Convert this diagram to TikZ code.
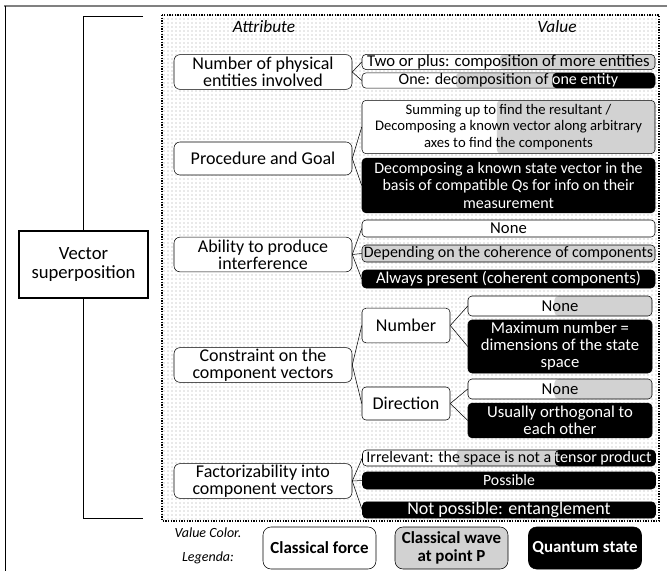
\documentclass[tikz,border=0pt]{standalone}
\usepackage{fontspec}
\setmainfont{Carlito}
\usetikzlibrary{patterns,calc}

\tikzset{
  attr/.style={draw, rounded corners=4.5pt, fill=white, align=center, inner sep=1pt,
    minimum width=133.5pt, minimum height=26pt, font=\fontsize{13.5}{12.5}\selectfont},
  val/.style={draw, rounded corners=3pt, fill=white, align=center, inner xsep=1pt,
    inner ysep=0.3pt, minimum width=219.75pt, font=\fontsize{12.5}{12.75}\selectfont},
  subval/.style={val, minimum width=138pt},
  qval/.style={fill=black, text=white},
  cval/.style={fill=gray!35},
  halfgray/.style={path picture={
    \fill[gray!35] ($(path picture bounding box.south west)!#1!(path picture bounding box.south east)$)
      rectangle (path picture bounding box.north east);}},
  tricol/.style 2 args={path picture={
    \fill[gray!35] ($(path picture bounding box.south west)!#1!(path picture bounding box.south east)$)
      rectangle (path picture bounding box.north east);
    \fill[black] ($(path picture bounding box.south west)!#2!(path picture bounding box.south east)$)
      rectangle (path picture bounding box.north east);}},
  legend/.style={draw, rounded corners=6pt, align=center, minimum width=84.75pt,
    minimum height=31.5pt, inner sep=1pt, font=\fontsize{12.7}{13}\selectfont\bfseries},
}

\begin{document}
\begin{tikzpicture}[x=0.75pt, y=-0.75pt]
  \useasboundingbox (0,0) rectangle (667,571);

  % frame of the figure
  \draw[gray, line width=1.5pt] (4,6) -- (667,6);
  \draw (5.5,6) -- (5.5,571);

  % dotted area
  \draw[densely dotted, line width=1pt, pattern=dots, pattern color=gray!75]
    (162,15) rectangle (659,521);
  \node[font=\fontsize{13}{13}\selectfont\itshape] (hattr) at (264,27) {Attribute};
  \node[font=\fontsize{13}{13}\selectfont\itshape] (hval) at (557,27) {Value};

  % bracket and root
  \draw (143,16) -| (83,518) -- (143,518);
  \node[draw, fill=white, line width=1.2pt, align=center, minimum width=96.75pt,
    minimum height=50pt, font=\fontsize{14}{14}\selectfont] (root) at (83.5,264.5)
    {Vector\\superposition};

  % attributes
  \node[attr] (entities) at (263,72) {Number of physical\\entities involved};
  \node[attr, minimum height=24.75pt] (goal) at (263,158.5) {Procedure and Goal};
  \node[attr] (interf) at (263,254.5) {Ability to produce\\interference};
  \node[attr] (constr) at (263,365) {Constraint on the\\component vectors};
  \node[attr] (factor) at (263,481) {Factorizability into\\component vectors};

  % values
  \node[val, minimum height=11pt, halfgray=0.47] (twoplus) at (508.5,62)
    {Two or plus: composition of more entities};
  \node[val, minimum height=11.5pt, font=\fontsize{12}{12}\selectfont, tricol={0.32}{0.65}]
    (oneent) at (508.5,80.5) {One: decomposition of one entity};
  \begin{scope}
    \clip ($(oneent.south west)!0.65!(oneent.south east)$) rectangle (oneent.north east);
    \node[val, draw=none, fill=none, text=white, font=\fontsize{12}{12}\selectfont]
      (oneent-w) at (oneent) {One: decomposition of one entity};
  \end{scope}
  \node[val, minimum height=40pt, font=\fontsize{11}{12.5}\selectfont, halfgray=0.46]
    (summing) at (508.5,127) {Summing up to find the resultant /\\Decomposing a known vector along arbitrary\\axes to find the components};
  \node[val, qval, minimum height=41pt, font=\fontsize{12}{13.2}\selectfont]
    (decomp) at (508.5,185.5) {Decomposing a known state vector in the\\basis of compatible \textit{Q}s for info on their\\measurement};

  \node[val, minimum height=12.75pt] (inone) at (508.5,228.5) {None};
  \node[val, cval, minimum height=12.75pt, font=\fontsize{12}{12}\selectfont] (idepend)
    at (508.5,253.5) {Depending on the coherence of components};
  \node[val, qval, minimum height=13.5pt] (ialways) at (508.5,279)
    {Always present (coherent components)};

  \node[val, minimum width=66pt, minimum height=26pt, font=\fontsize{13.5}{13}\selectfont]
    (number) at (406,325.5) {Number};
  \node[val, minimum width=66pt, minimum height=24.75pt, font=\fontsize{13.5}{13}\selectfont]
    (direction) at (406,403.5) {Direction};
  \node[subval, minimum height=15pt, halfgray=0.47] (nnone) at (560,306) {None};
  \node[subval, qval, minimum height=39.75pt] (nmax) at (560,346.5)
    {Maximum number =\\dimensions of the state\\space};
  \node[subval, minimum height=15pt, halfgray=0.47] (dnone) at (560,389) {None};
  \node[subval, qval, minimum height=26pt] (dortho) at (560,420.5)
    {Usually orthogonal to\\each other};

  \node[val, minimum height=12pt, font=\fontsize{12}{12}\selectfont, tricol={0.32}{0.657}]
    (irrel) at (509,458) {Irrelevant: the space is not a tensor product};
  \begin{scope}
    \clip ($(irrel.south west)!0.657!(irrel.south east)$) rectangle (irrel.north east);
    \node[val, draw=none, fill=none, text=white, font=\fontsize{12}{12}\selectfont]
      (irrel-w) at (irrel) {Irrelevant: the space is not a tensor product};
  \end{scope}
  \node[val, qval, minimum height=12.75pt, font=\fontsize{11.8}{12}\selectfont]
    (possible) at (509,480.5) {Possible};
  \node[val, qval, minimum height=12pt, font=\fontsize{13.5}{13}\selectfont]
    (notposs) at (509,510) {Not possible: entanglement};

  % connectors
  \draw (entities.east) -- (twoplus.west);
  \draw (entities.east) -- (oneent.west);
  \draw (goal.east) -- (summing.west);
  \draw (goal.east) -- (decomp.west);
  \draw (interf.east) -- (inone.west);
  \draw (interf.east) -- (idepend.west);
  \draw (interf.east) -- (ialways.west);
  \draw (constr.east) -- (number.west);
  \draw (constr.east) -- (direction.west);
  \draw (number.east) -- (nnone.west);
  \draw (number.east) -- (nmax.west);
  \draw (direction.east) -- (dnone.west);
  \draw (direction.east) -- (dortho.west);
  \draw (factor.east) -- (irrel.west);
  \draw (factor.east) -- (possible.west);
  \draw (factor.east) -- (notposs.west);

  % legend
  \node[align=center, font=\fontsize{10.5}{18}\selectfont\itshape] (legtitle) at (208,546)
    {Value Color.\\Legenda:};
  \node[legend] (lforce) at (319.5,548) {Classical force};
  \node[legend, fill=gray!35] (lwave) at (451.5,548) {Classical wave\\at point P};
  \node[legend, fill=black, text=white] (lquant) at (585,548) {Quantum state};
\end{tikzpicture}
\end{document}
